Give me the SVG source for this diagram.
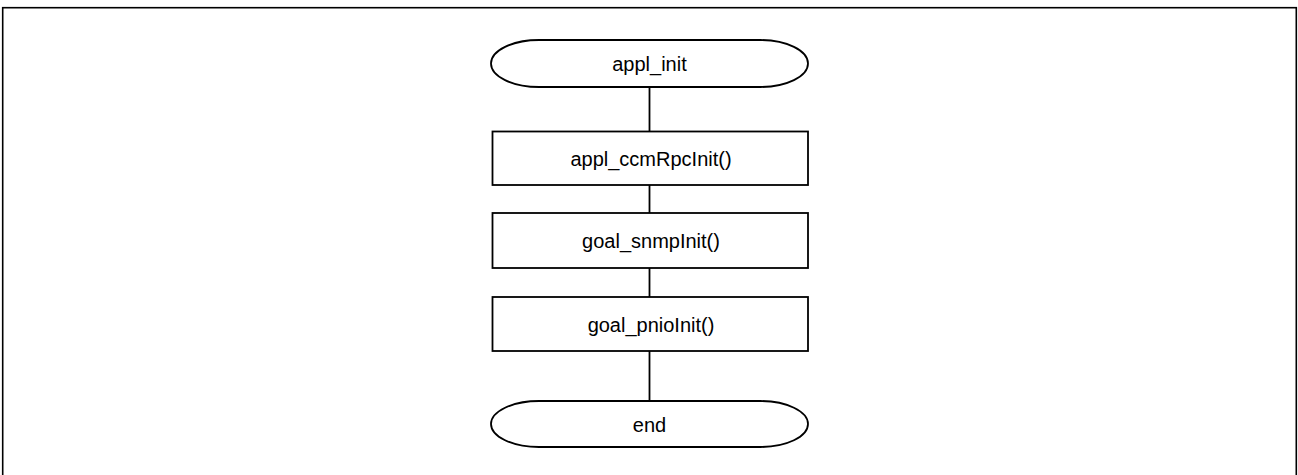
<svg xmlns="http://www.w3.org/2000/svg" width="1298" height="475" viewBox="0 0 1298 475">
  <style>
    .shape { fill: #ffffff; stroke: #000000; stroke-width: 1.8; }
    .frame { fill: none; stroke: #000000; stroke-width: 1.6; }
    .conn { stroke: #000000; stroke-width: 1.8; fill: none; }
    .label { font-family: "Liberation Sans", Arial, sans-serif; font-size: 20px; fill: #000000; text-anchor: middle; }
  </style>
  <rect width="1298" height="475" fill="#ffffff"/>
  <rect class="frame" x="2.7" y="7.7" width="1293.6" height="470"/>

  <g id="connectors">
    <line class="conn" x1="649.5" y1="87" x2="649.5" y2="131.5"/>
    <line class="conn" x1="649.5" y1="185" x2="649.5" y2="213"/>
    <line class="conn" x1="649.5" y1="268" x2="649.5" y2="297"/>
    <line class="conn" x1="649.5" y1="351" x2="649.5" y2="401"/>
  </g>

  <g id="start">
    <rect class="shape" x="491" y="40" width="317" height="47" rx="48" ry="23.5"/>
    <text class="label" x="649.5" y="71">appl_init</text>
  </g>
  <g id="ccmRpcInit">
    <rect class="shape" x="492.5" y="131.5" width="315.5" height="53.5"/>
    <text class="label" x="651" y="165.7">appl_ccmRpcInit()</text>
  </g>
  <g id="snmpInit">
    <rect class="shape" x="492.5" y="213" width="315.5" height="55"/>
    <text class="label" x="651" y="248">goal_snmpInit()</text>
  </g>
  <g id="pnioInit">
    <rect class="shape" x="492.5" y="297" width="315.5" height="54"/>
    <text class="label" x="651" y="331.5">goal_pnioInit()</text>
  </g>
  <g id="end">
    <rect class="shape" x="491" y="401" width="317" height="46" rx="48" ry="23"/>
    <text class="label" x="649.5" y="431.5">end</text>
  </g>
</svg>
